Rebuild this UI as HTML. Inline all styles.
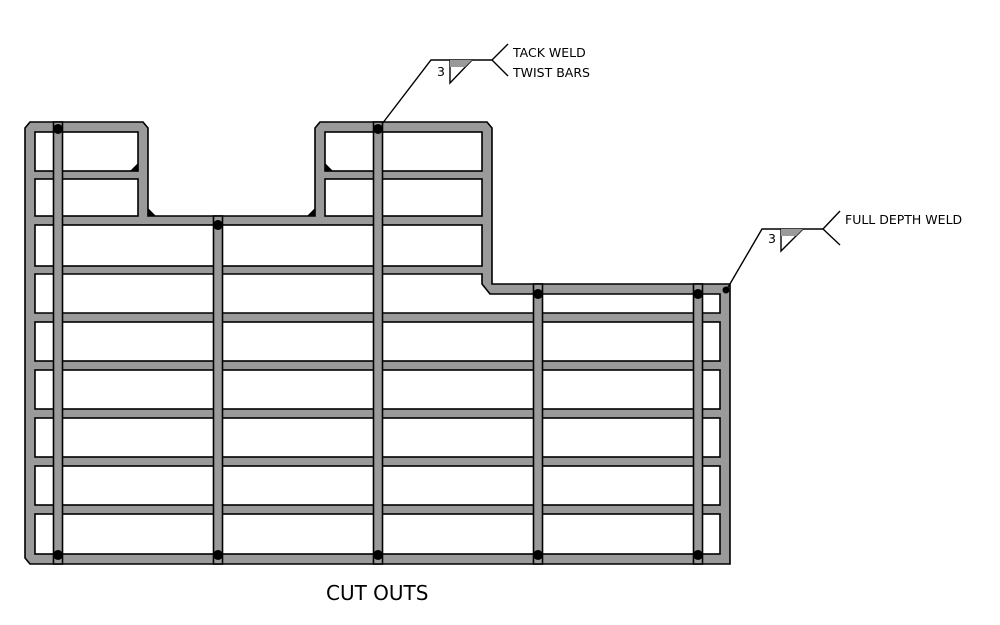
<!DOCTYPE html>
<html><head><style>
html,body{margin:0;padding:0;background:#fff;}
svg{display:block;}
text{font-family:"DejaVu Sans","Liberation Sans",sans-serif;}
</style></head><body>
<svg width="1000" height="625" viewBox="0 0 1000 625" xmlns="http://www.w3.org/2000/svg">
<!-- frame -->
<path d="M25,128 L30,122 L143,122 L148,128 L148,216 L315,216 L315,128 L320,122 L487,122 L492,128 L492,284 L730,284 L730,564 L30,564 L25,558 Z" fill="#9a9a9a" stroke="#000" stroke-width="1.6"/>
<g fill="#fff" stroke="#000" stroke-width="1.6">
<rect x="35" y="132" width="103" height="39"/>
<rect x="35" y="179" width="103" height="37"/>
<rect x="325" y="132" width="157" height="39"/>
<rect x="325" y="179" width="157" height="37"/>
<rect x="35" y="225" width="447" height="41"/>
<path d="M35,274 L482,274 L482,284 L490,294 L720,294 L720,313 L35,313 Z"/>
<rect x="35" y="322" width="685" height="39"/>
<rect x="35" y="370" width="685" height="39"/>
<rect x="35" y="418" width="685" height="39"/>
<rect x="35" y="466" width="685" height="39"/>
<rect x="35" y="514" width="685" height="40"/>
</g>
<!-- small fillets -->
<g fill="#000">
<path d="M130,171 L138,171 L138,163 Z"/>
<path d="M148,208 L148,216 L156,216 Z"/>
<path d="M325,155 L325,163 L333,163 Z" transform="translate(0,8)"/>
<path d="M315,208 L315,216 L307,216 Z"/>
</g>
<!-- cross bars -->
<g fill="#9a9a9a" stroke="#000" stroke-width="1.6">
<rect x="53.5" y="122" width="9" height="442"/>
<rect x="213.5" y="216" width="9" height="348"/>
<rect x="373.5" y="122" width="9" height="442"/>
<rect x="533.5" y="284" width="9" height="280"/>
<rect x="693.5" y="284" width="9" height="280"/>
</g>
<g fill="#000">
<circle cx="58" cy="129" r="5"/><circle cx="378" cy="129" r="5"/>
<circle cx="218" cy="225" r="5"/><circle cx="538" cy="294" r="5"/><circle cx="698" cy="294" r="5"/>
<circle cx="58" cy="555" r="5"/><circle cx="218" cy="555" r="5"/><circle cx="378" cy="555" r="5"/><circle cx="538" cy="555" r="5"/><circle cx="698" cy="555" r="5"/>
<circle cx="726" cy="290" r="3.5"/>
</g>
<!-- weld symbol 1 -->
<g fill="none" stroke="#000" stroke-width="1.4">
<path d="M382,124 L431,60 L492,60"/>
<path d="M450,60 L450,83 L472,60"/>
<path d="M508,44 L492,60 L508,76"/>
<path d="M727,289 L762,229 L823,229"/>
<path d="M781,229 L781,251 L803,229"/>
<path d="M840,211 L823,229 L840,245"/>
</g>
<path d="M450,60 L450,67 L465,67 L472,60 Z" fill="#9a9a9a"/>
<path d="M781,229 L781,236 L796,236 L803,229 Z" fill="#9a9a9a"/>
<g font-size="12.5" fill="#000">
<text x="437" y="76">3</text>
<text x="513" y="57">TACK WELD</text>
<text x="513" y="77">TWIST BARS</text>
<text x="768" y="243">3</text>
<text x="845" y="224">FULL DEPTH WELD</text>
</g>
<text x="326" y="600" font-size="20" font-family="Liberation Sans, sans-serif">CUT OUTS</text>
</svg>
</body></html>
